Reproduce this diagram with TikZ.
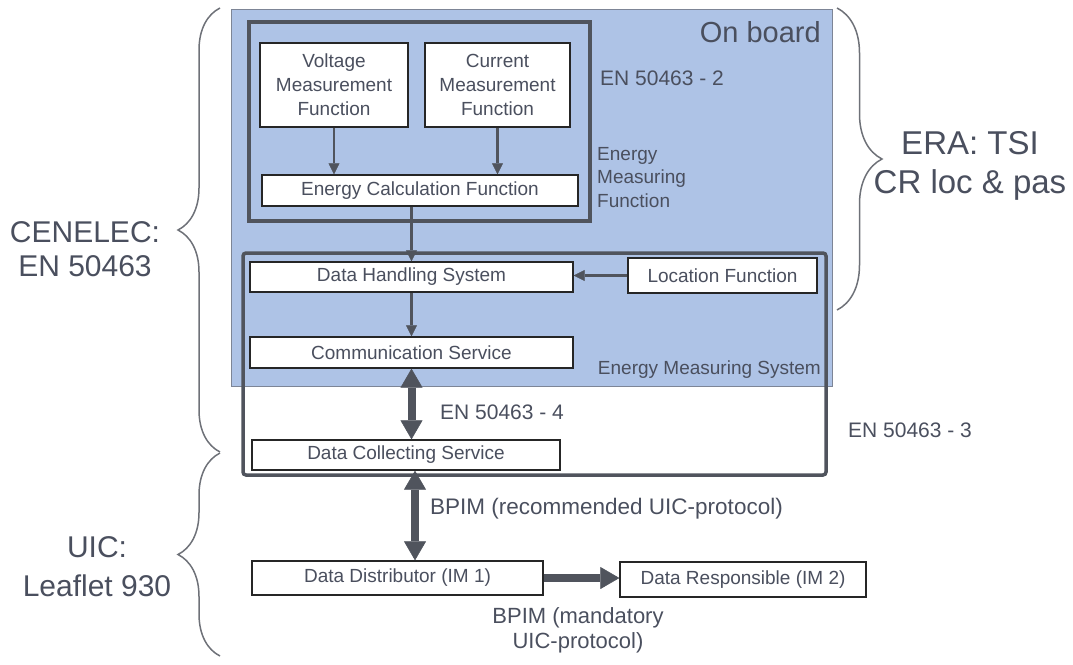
\documentclass[tikz,border=0pt]{standalone}
\usepackage{fontspec}
\setmainfont{Liberation Sans}
\usetikzlibrary{positioning,arrows.meta,decorations.pathreplacing}
\definecolor{ink}{HTML}{4A4F5E}
\definecolor{frame}{HTML}{50545D}
\definecolor{board}{HTML}{AEC3E6}
\definecolor{boardline}{HTML}{7D8596}
\definecolor{bracegray}{HTML}{6E7178}

\tikzset{
  fnbox/.style={draw=black!85, line width=1.3pt, fill=white, text=ink, inner sep=0pt,
                align=center, font=\fontsize{19}{24}\selectfont},
  thinarrow/.style={draw=frame, line width=2.3pt, -{Triangle[width=11pt,length=11pt,line width=0.5pt]}},
  fatarrow/.style={draw=frame, line width=8pt, -{Triangle[width=22pt,length=19pt,line width=0.5pt]}},
  fatbiarrow/.style={draw=frame, line width=8pt,
                {Triangle[width=22pt,length=19pt,line width=0.5pt]}-{Triangle[width=22pt,length=19pt,line width=0.5pt]}},
  tag/.style={text=ink, inner sep=0pt, font=\fontsize{21}{25}\selectfont},
  bigtag/.style={text=ink, inner sep=0pt, align=center, font=\fontsize{30}{34}\selectfont},
  bracket/.style={draw=bracegray, line width=1.5pt, decorate, decoration={brace, amplitude=#1}},
}

\begin{document}
\begin{tikzpicture}[x=1pt, y=-1pt]
  \useasboundingbox (0,0) rectangle (1073,664);

  % on board area and the two frames
  \fill[board] (231,9) rectangle (832,386);
  \draw[boardline, line width=1pt] (231,9) rectangle (832,386);
  \node[anchor=north east, text=ink, inner sep=0pt, font=\fontsize{29}{32}\selectfont] (onboard) at (821,21) {On board};
  \draw[frame, line width=4.5pt] (249,22) rectangle (590,221);
  \draw[frame, line width=3.5pt, rounded corners=3pt] (243,253) rectangle (826,475);

  % function boxes
  \node[fnbox, minimum width=148pt, minimum height=84pt] (volt) at (334,85) {Voltage\\Measurement\\Function};
  \node[fnbox, minimum width=145pt, minimum height=84pt] (curr) at (497.5,85) {Current\\Measurement\\Function};
  \node[fnbox, minimum width=316pt, minimum height=31pt] (ecalc) at (420,190.5) {Energy Calculation Function};
  \node[fnbox, minimum width=323pt, minimum height=30pt] (dhs) at (411.5,277) {Data Handling System};
  \node[fnbox, minimum width=189pt, minimum height=35pt] (loc) at (722.5,275.5) {Location Function};
  \node[fnbox, minimum width=323pt, minimum height=31pt] (comm) at (411.5,352.5) {Communication Service};
  \node[fnbox, minimum width=308pt, minimum height=30pt] (dcs) at (406,455) {Data Collecting Service};
  \node[fnbox, minimum width=291pt, minimum height=34pt] (dd) at (397.5,578) {Data Distributor (IM 1)};
  \node[fnbox, minimum width=246pt, minimum height=35pt] (dr) at (743,579.5) {Data Responsible (IM 2)};

  % labels
  \node[tag, anchor=west] (en2) at (600,78) {EN 50463 - 2};
  \node[tag, anchor=north west, align=left, font=\fontsize{19}{23.5}\selectfont] (emf) at (597,147) {Energy\\Measuring\\Function};
  \node[tag, anchor=east, font=\fontsize{19}{23}\selectfont] (ems) at (821,370) {Energy Measuring System};
  \node[tag, anchor=west] (en4) at (440,412) {EN 50463 - 4};
  \node[tag, anchor=west] (en3) at (848,430) {EN 50463 - 3};
  \node[tag, anchor=west, font=\fontsize{22.5}{26}\selectfont] (bpim) at (430,509) {BPIM (recommended UIC-protocol)};
  \node[tag, align=center, font=\fontsize{22}{25}\selectfont] (bpimm) at (578,630) {BPIM (mandatory\\UIC-protocol)};

  % connectors
  \draw[thinarrow] (volt.south) -- (volt.south |- ecalc.north);
  \draw[thinarrow] (curr.south) -- (curr.south |- ecalc.north);
  \draw[thinarrow] (dhs.north |- ecalc.south) -- (dhs.north);
  \draw[thinarrow] (loc.west) -- (dhs.east |- loc.west);
  \draw[thinarrow] (dhs.south) -- (comm.north);
  \draw[fatbiarrow] (comm.south) -- (comm.south |- dcs.north);
  \coordinate (bpimtop) at ([xshift=9pt]dcs.south);
  \draw[fatbiarrow] (bpimtop) -- (bpimtop |- dd.north);
  \draw[fatarrow] (dd.east) -- (dd.east -| dr.west);

  % braces
  \draw[bracket=42pt] (220,452) -- (220,8);
  \draw[bracket=42pt] (220,656) -- (220,453);
  \draw[bracket=45pt] (837,8) -- (837,310);
  \node[bigtag] (cenelec) at (85,249) {CENELEC:\\EN 50463};
  \node[bigtag, font=\fontsize{30}{39}\selectfont] (uic) at (97,567) {UIC:\\Leaflet 930};
  \node[bigtag, font=\fontsize{33}{39}\selectfont] (era) at (970,166) {ERA: TSI\\CR loc \& pas};
\end{tikzpicture}
\end{document}
